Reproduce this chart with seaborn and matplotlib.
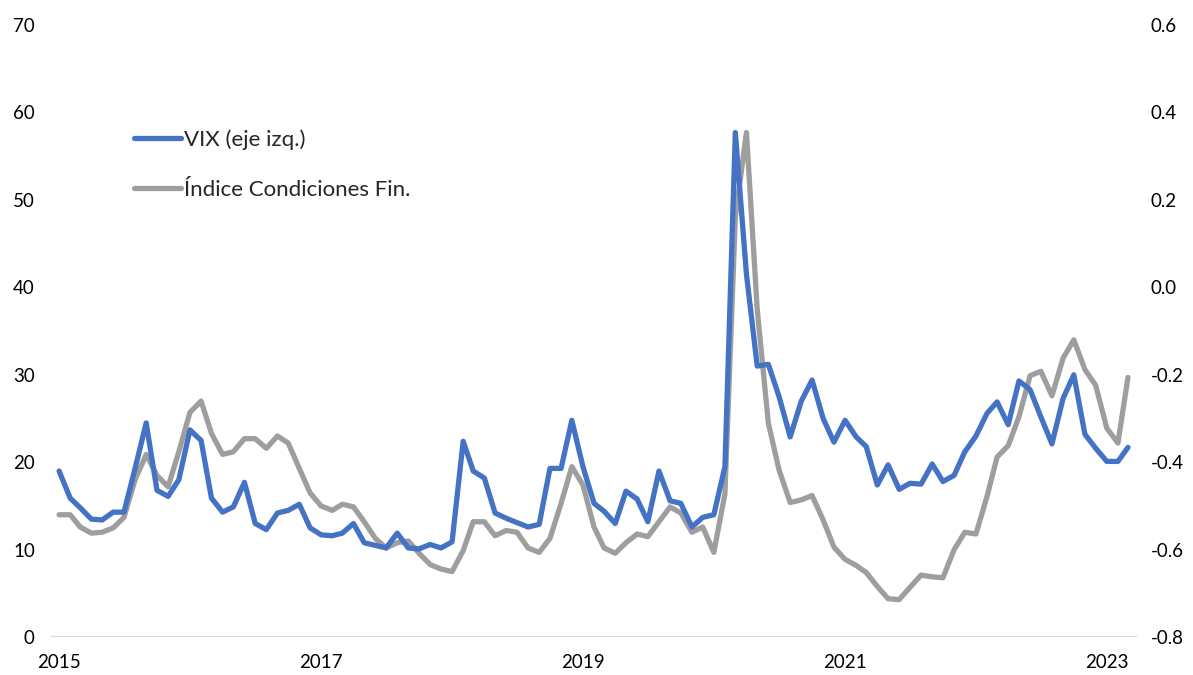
import pandas as pd
import numpy as np
import matplotlib
matplotlib.use('Agg')
import matplotlib.pyplot as plt
import seaborn as sns

# Monthly data, Jan 2015 - Mar 2023
start_month = '2015-01-01'

vix = [
    19.0, 15.9, 14.8, 13.5, 13.4, 14.3, 14.3, 19.3, 24.5, 16.8, 16.1, 18.0,   # 2015
    23.7, 22.5, 15.9, 14.3, 14.9, 17.7, 13.0, 12.3, 14.2, 14.5, 15.2, 12.5,   # 2016
    11.7, 11.6, 11.9, 13.0, 10.8, 10.5, 10.2, 11.9, 10.2, 10.1, 10.6, 10.2,   # 2017
    10.9, 22.4, 19.0, 18.2, 14.2, 13.6, 13.1, 12.6, 12.9, 19.3, 19.3, 24.8,   # 2018
    19.5, 15.3, 14.4, 13.0, 16.7, 15.8, 13.2, 19.0, 15.6, 15.3, 12.6, 13.7,   # 2019
    14.0, 19.5, 57.7, 41.5, 31.0, 31.2, 27.5, 22.9, 27.0, 29.4, 25.0, 22.3,   # 2020
    24.8, 22.9, 21.8, 17.4, 19.7, 16.9, 17.6, 17.5, 19.8, 17.8, 18.5, 21.2,   # 2021
    23.0, 25.6, 26.9, 24.3, 29.3, 28.3, 25.2, 22.1, 27.3, 30.0, 23.2, 21.6,   # 2022
    20.1, 20.1, 21.7,                                                         # 2023
]

fci = [
    -0.520, -0.520, -0.548, -0.562, -0.560, -0.550, -0.526, -0.440, -0.382, -0.430, -0.456, -0.376,
    -0.286, -0.260, -0.334, -0.382, -0.376, -0.346, -0.346, -0.368, -0.340, -0.356, -0.414, -0.470,
    -0.500, -0.510, -0.496, -0.502, -0.536, -0.574, -0.596, -0.584, -0.580, -0.608, -0.634, -0.644,
    -0.650, -0.602, -0.536, -0.536, -0.568, -0.556, -0.560, -0.596, -0.606, -0.574, -0.494, -0.410,
    -0.452, -0.548, -0.596, -0.608, -0.584, -0.564, -0.570, -0.536, -0.502, -0.516, -0.560, -0.548,
    -0.606, -0.472, 0.160, 0.354, -0.050, -0.310, -0.418, -0.492, -0.486, -0.476, -0.532, -0.594,
    -0.622, -0.636, -0.652, -0.684, -0.712, -0.714, -0.686, -0.658, -0.662, -0.664, -0.600, -0.560,
    -0.564, -0.478, -0.388, -0.362, -0.296, -0.202, -0.192, -0.248, -0.162, -0.120, -0.188, -0.224,
    -0.322, -0.356, -0.206,
]

left_ticks = [0, 10, 20, 30, 40, 50, 60, 70]
right_ticks = [-0.8, -0.6, -0.4, -0.2, 0.0, 0.2, 0.4, 0.6]
year_ticks = ['2015', '2017', '2019', '2021', '2023']

label_vix = 'VIX (eje izq.)'
label_fci = 'Índice Condiciones Fin.'

BLUE = '#4472C4'
GRAY = '#9E9E9F'

dates = pd.date_range(start_month, periods=len(vix), freq='MS')
df = pd.DataFrame({'fecha': dates, 'vix': vix, 'fci': fci})

sns.set_style('white')
plt.rcParams['font.family'] = ['Lato', 'DejaVu Sans']

fig = plt.figure(figsize=(11.93, 6.75), dpi=100)
ax = fig.add_axes([0.042, 0.056, 0.911, 0.907])
ax2 = ax.twinx()

sns.lineplot(data=df, x='fecha', y='vix', ax=ax, color=BLUE, linewidth=3.8,
             label=label_vix, legend=False)
sns.lineplot(data=df, x='fecha', y='fci', ax=ax2, color=GRAY, linewidth=3.8,
             label=label_fci, legend=False)

# draw the blue line above the gray one
ax.set_zorder(ax2.get_zorder() + 1)
ax.patch.set_visible(False)

ax.set_ylim(0, 70)
ax2.set_ylim(-0.8, 0.6)
ax.set_yticks(left_ticks)
ax2.set_yticks(right_ticks)
ax.set_yticklabels([str(t) for t in left_ticks])
ax2.set_yticklabels(['%.1f' % t for t in right_ticks])

ax.set_xlim(pd.Timestamp('2014-12-07'), pd.Timestamp('2023-03-26'))
ax.set_xticks([pd.Timestamp(y + '-01-01') for y in year_ticks])
ax.set_xticklabels(year_ticks)

ax.set_xlabel('')
ax.set_ylabel('')
ax2.set_xlabel('')
ax2.set_ylabel('')

for a in (ax, ax2):
    for s in a.spines.values():
        s.set_visible(False)
    a.tick_params(length=0, labelsize=13.5, colors='black')
    a.grid(False)

ax.tick_params(axis='y', pad=11)
ax.tick_params(axis='x', pad=12)
ax2.tick_params(axis='y', pad=10)

# baseline at zero
ax.axhline(0, color='#D9D9D9', linewidth=1.6, zorder=0)

handles = ax.get_lines()[:1] + ax2.get_lines()[:1]
leg = fig.legend(handles, [label_vix, label_fci], loc='upper left',
                 bbox_to_anchor=(0.112, 0.809), frameon=False, fontsize=16,
                 handlelength=2.15, handletextpad=0.1, labelspacing=1.37,
                 borderpad=0, borderaxespad=0)

fig.savefig('out.png', dpi=100)
